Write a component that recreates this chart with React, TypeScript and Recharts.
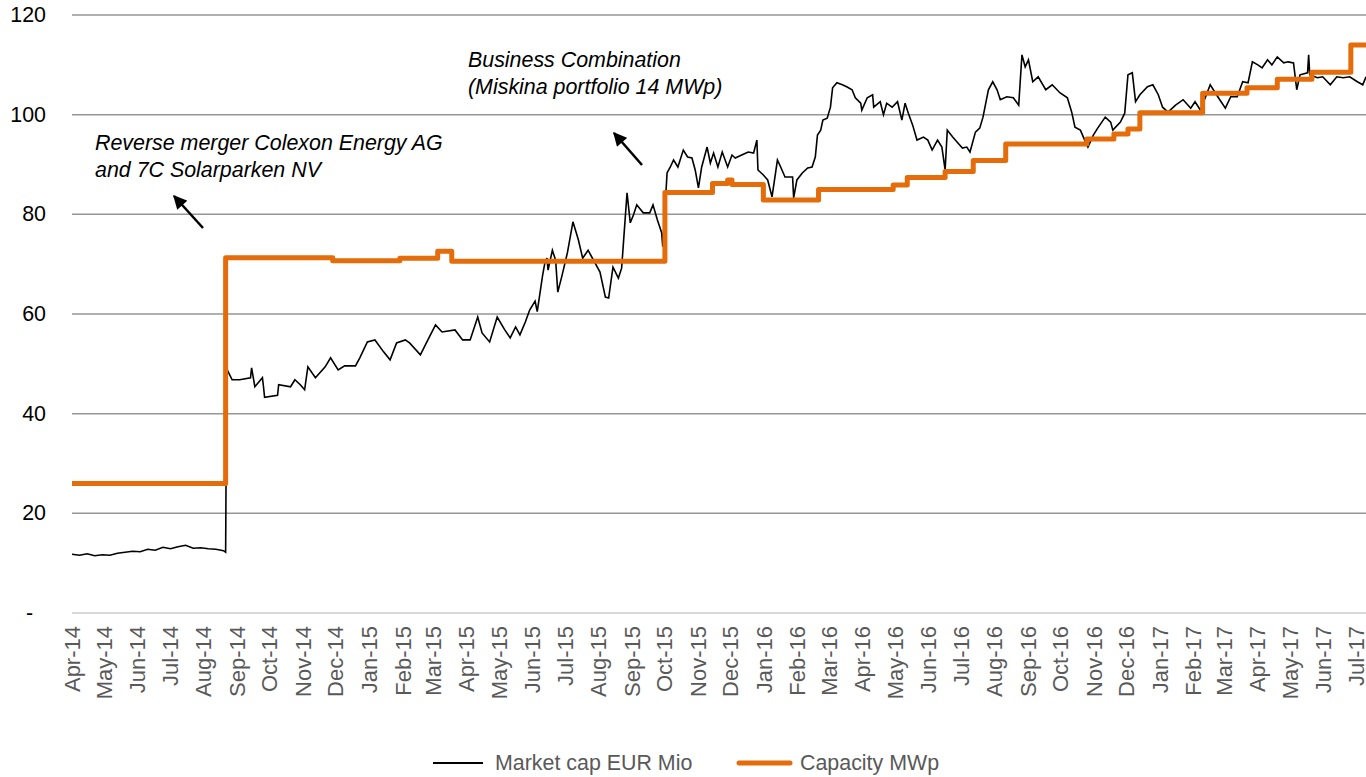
import { LineChart, Line, XAxis, YAxis, CartesianGrid } from 'recharts';

// x = days since 1 Apr 2014
const monthLabels = [
  'Apr-14', 'May-14', 'Jun-14', 'Jul-14', 'Aug-14', 'Sep-14', 'Oct-14', 'Nov-14', 'Dec-14',
  'Jan-15', 'Feb-15', 'Mar-15', 'Apr-15', 'May-15', 'Jun-15', 'Jul-15', 'Aug-15', 'Sep-15', 'Oct-15', 'Nov-15', 'Dec-15',
  'Jan-16', 'Feb-16', 'Mar-16', 'Apr-16', 'May-16', 'Jun-16', 'Jul-16', 'Aug-16', 'Sep-16', 'Oct-16', 'Nov-16', 'Dec-16',
  'Jan-17', 'Feb-17', 'Mar-17', 'Apr-17', 'May-17', 'Jun-17', 'Jul-17',
];

const yTicks = [0, 20, 40, 60, 80, 100, 120];

const marketCapDays = [
  0, 7, 14, 21, 28, 35, 42, 49, 56, 63, 70, 77, 84, 91, 98, 105, 112, 119, 126, 133, 140, 142,
  143, 148, 155, 165, 166, 169, 176, 177, 178, 190, 191, 202, 206, 211, 215, 218, 225, 234, 239, 246,
  252, 262, 266, 273, 280, 288, 294, 300, 308, 312, 322, 328, 336, 342, 354, 361, 368, 375, 379, 386,
  393, 400, 405, 410, 414, 419, 423, 428, 430, 435, 437, 439, 440, 444, 447, 449, 453, 458, 463, 468,
  472, 477, 482, 488, 493, 496, 500, 505, 508, 513, 516, 519, 522, 528, 534, 537, 541, 545, 546, 550,
  553, 556, 560, 565, 569, 573, 576, 579, 582, 587, 590, 593, 597, 601, 606, 610, 613, 619, 625, 630,
  633, 634, 639, 643, 647, 652, 655, 659, 666, 667, 670, 675, 680, 684, 687, 689, 692, 694, 698, 701,
  703, 707, 712, 716, 721, 724, 729, 730, 735, 740, 741, 747, 750, 753, 758, 763, 767, 770, 773, 777,
  781, 787, 791, 795, 800, 804, 807, 809, 814, 818, 823, 827, 830, 835, 839, 842, 847, 851, 855, 858,
  864, 870, 875, 878, 881, 884, 888, 893, 900, 906, 913, 920, 924, 927, 932, 936, 939, 944, 948, 955,
  960, 962, 969, 973, 976, 980, 983, 987, 994, 999, 1004, 1008, 1013, 1020, 1027, 1034, 1038, 1043, 1052, 1059,
  1066, 1071, 1077, 1082, 1087, 1091, 1096, 1100, 1105, 1109, 1114, 1120, 1124, 1129, 1132, 1135, 1142, 1143, 1144, 1151,
  1156, 1163, 1169, 1175, 1181, 1188, 1193, 1196,
];

const marketCapValues = [
  11.8, 11.6, 11.9, 11.5, 11.7, 11.6, 12.0, 12.2, 12.4, 12.3, 12.8, 12.6, 13.2, 12.9, 13.3, 13.6, 13.0, 13.1, 12.9, 12.8, 12.5, 12.2,
  49.0, 46.8, 46.8, 47.2, 49.2, 45.4, 47.2, 45.4, 43.3, 43.7, 45.8, 45.4, 46.8, 45.8, 44.8, 49.4, 47.2, 49.4, 51.2, 48.8,
  49.6, 49.6, 51.2, 54.4, 54.8, 52.4, 50.8, 54.2, 54.8, 54.2, 51.8, 54.4, 57.8, 56.4, 56.8, 54.8, 54.8, 59.4, 56.2, 54.4,
  59.4, 56.8, 55.2, 57.4, 55.8, 58.4, 60.8, 62.6, 60.5, 67.8, 70.2, 71.2, 68.8, 72.8, 70.8, 64.4, 67.8, 72.4, 78.5, 74.9,
  71.2, 72.8, 70.8, 68.4, 63.4, 63.2, 69.4, 67.2, 69.2, 84.3, 78.3, 79.9, 81.9, 80.3, 80.3, 81.9, 78.9, 76.3, 73.5, 88.3,
  89.5, 90.9, 89.5, 92.9, 91.5, 91.3, 88.9, 85.3, 89.5, 93.5, 90.3, 92.3, 89.5, 92.5, 89.5, 91.9, 91.3, 91.9, 92.5, 92.3,
  94.9, 88.9, 87.9, 86.9, 83.5, 90.9, 89.5, 87.5, 87.5, 83.3, 86.9, 88.3, 89.3, 89.5, 91.5, 95.9, 96.9, 98.9, 99.3, 101.5,
  105.4, 106.4, 106.0, 105.6, 105.0, 103.4, 102.3, 100.9, 103.4, 104.0, 101.5, 102.6, 100.0, 102.3, 101.5, 102.6, 98.9, 102.3, 100.3, 97.9,
  94.9, 95.5, 94.9, 92.9, 94.9, 93.5, 88.9, 96.9, 95.5, 94.5, 93.3, 93.5, 92.5, 96.5, 97.3, 99.5, 105.0, 106.6, 105.0, 103.0,
  103.6, 103.4, 101.9, 112.0, 109.6, 111.0, 106.6, 107.6, 105.0, 106.0, 104.4, 103.4, 100.5, 97.5, 96.9, 94.9, 93.5, 95.9, 97.3, 99.5,
  98.5, 96.9, 98.5, 100.3, 108.0, 108.4, 102.6, 104.0, 105.6, 106.0, 104.0, 101.5, 100.5, 101.9, 103.0, 101.3, 102.6, 100.9, 106.0, 103.6,
  101.3, 103.6, 103.6, 106.6, 106.4, 110.6, 110.0, 109.4, 111.0, 110.0, 111.6, 110.4, 110.6, 110.4, 105.0, 108.0, 108.4, 112.0, 108.0, 107.4,
  107.6, 106.0, 107.6, 107.4, 107.6, 106.6, 106.0, 107.6,
];

const capacityDays = [0, 142, 241, 303, 338, 351, 548, 592, 606, 610, 639, 690, 759, 772, 807, 833, 863, 938, 963, 976, 987, 1045, 1086, 1114, 1146, 1182, 1196];
const capacityValues = [26.0, 71.3, 70.7, 71.2, 72.6, 70.6, 84.4, 86.2, 86.9, 86.0, 82.9, 85.0, 85.9, 87.4, 88.6, 90.8, 94.1, 95.1, 96.1, 97.1, 100.4, 104.3, 105.4, 107.1, 108.5, 114.0, 114.0];

const START = Date.UTC(2014, 3, 1);
const monthNames = ['Jan', 'Feb', 'Mar', 'Apr', 'May', 'Jun', 'Jul', 'Aug', 'Sep', 'Oct', 'Nov', 'Dec'];
const monthTicks = monthLabels.map((l) => {
  const [m, y] = l.split('-');
  return Math.round((Date.UTC(2000 + Number(y), monthNames.indexOf(m), 1) - START) / 86400000);
});
const labelByTick: Record<number, string> = {};
monthTicks.forEach((t, i) => (labelByTick[t] = monthLabels[i]));

const marketCap = marketCapDays.map((d, i) => ({ day: d, value: marketCapValues[i] }));
const capacity = capacityDays.map((d, i) => ({ day: d, value: capacityValues[i] }));

const FONT = '"Liberation Sans", Arial, sans-serif';

function MonthTick({ x, y, payload }: any) {
  return (
    <text
      x={x}
      y={y}
      transform={`rotate(-90 ${x} ${y})`}
      textAnchor="end"
      dominantBaseline="central"
      fill="#595959"
      fontSize={22}
      fontFamily={FONT}
    >
      {labelByTick[payload.value]}
    </text>
  );
}

function ValueTick({ x, y, payload }: any) {
  const zero = payload.value === 0;
  return (
    <text
      x={zero ? x - 13 : x}
      y={y}
      textAnchor="end"
      dominantBaseline="central"
      fill="#000"
      fontSize={21.4}
      fontFamily={FONT}
    >
      {zero ? '-' : payload.value}
    </text>
  );
}

export default function App() {
  return (
    <div style={{ position: 'absolute', left: 0, top: 0, width: 1366, height: 777, fontFamily: FONT, background: '#fff' }}>
      <LineChart width={1366} height={777} margin={{ top: 15, right: 0, bottom: 0, left: 0 }}>
        <CartesianGrid vertical={false} horizontalValues={[20, 40, 60, 80, 100, 120]} stroke="#969696" strokeWidth={1.5} />
        <XAxis
          type="number"
          dataKey="day"
          domain={[0, 1196]}
          ticks={monthTicks}
          interval={0}
          allowDataOverflow
          height={164}
          tickLine={false}
          tickSize={0}
          tickMargin={13}
          axisLine={{ stroke: '#d9d9d9', strokeWidth: 2 }}
          tick={<MonthTick />}
        />
        <YAxis
          type="number"
          domain={[0, 120]}
          ticks={yTicks}
          interval={0}
          width={72}
          axisLine={false}
          tickLine={false}
          tickSize={0}
          tickMargin={26}
          tick={<ValueTick />}
        />
        <Line
          data={marketCap}
          dataKey="value"
          type="linear"
          stroke="#000"
          strokeWidth={1.6}
          dot={false}
          isAnimationActive={false}
        />
        <Line
          data={capacity}
          dataKey="value"
          type="stepAfter"
          stroke="#E46C0A"
          strokeWidth={5}
          strokeLinejoin="round"
          dot={false}
          isAnimationActive={false}
        />
      </LineChart>

      <svg width={1366} height={777} style={{ position: 'absolute', left: 0, top: 0, pointerEvents: 'none' }}>
        <defs>
          <marker id="ah" viewBox="0 0 10 10" refX="9" refY="5" markerWidth="6" markerHeight="5.5" orient="auto">
            <path d="M0,0 L10,5 L0,10 z" fill="#000" />
          </marker>
        </defs>
        <g fontFamily={FONT} fontSize={21.4} fontStyle="italic" fill="#000">
          <text x={95} y={143} dominantBaseline="central">Reverse merger Colexon Energy AG</text>
          <text x={95} y={170} dominantBaseline="central">and 7C Solarparken NV</text>
          <text x={468} y={60} dominantBaseline="central">Business Combination</text>
          <text x={468} y={87} dominantBaseline="central">(Miskina portfolio 14 MWp)</text>
        </g>
        <line x1={203} y1={228} x2={174} y2={196} stroke="#000" strokeWidth={2.5} markerEnd="url(#ah)" />
        <line x1={642} y1={165} x2={614} y2={133} stroke="#000" strokeWidth={2.5} markerEnd="url(#ah)" />

        <g fontFamily={FONT} fontSize={21.4} fill="#595959">
          <line x1={433} y1={763} x2={483} y2={763} stroke="#000" strokeWidth={2} />
          <text x={495} y={763} dominantBaseline="central">Market cap EUR Mio</text>
          <line x1={739} y1={763} x2={790} y2={763} stroke="#E46C0A" strokeWidth={5} strokeLinecap="round" />
          <text x={800} y={763} dominantBaseline="central">Capacity MWp</text>
        </g>
      </svg>
    </div>
  );
}
